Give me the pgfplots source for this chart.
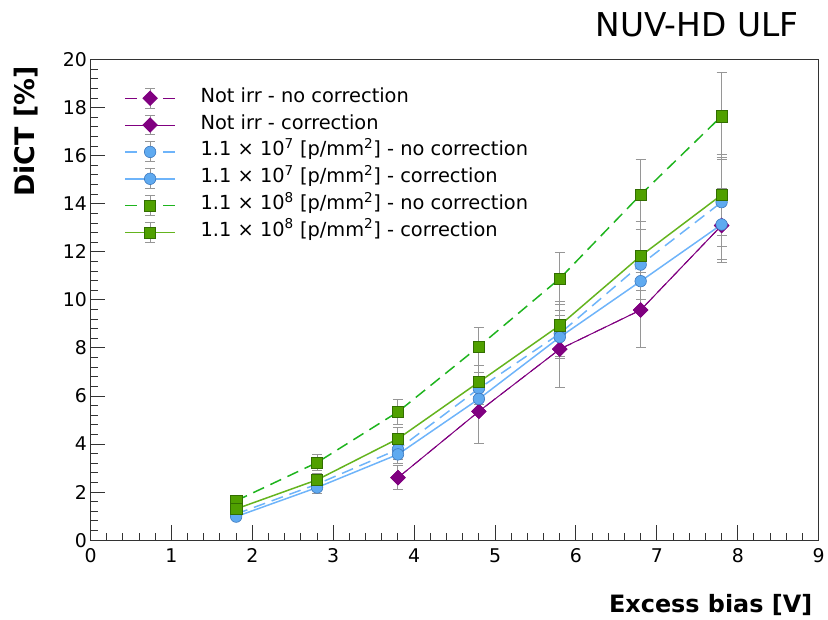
\documentclass[border=0pt]{standalone}
\usepackage{pgfplots}
\pgfplotsset{compat=1.18}
\usepackage{pgfplotstable}
\usepackage{fontspec}
\setmainfont{DejaVu Sans}
\definecolor{cpurple}{RGB}{128,0,128}
\definecolor{cblue}{RGB}{95,170,240}
\definecolor{cblueline}{RGB}{110,180,250}
\definecolor{cblueedge}{RGB}{60,120,190}
\definecolor{cgreen}{RGB}{80,160,0}
\definecolor{cgreenedge}{RGB}{50,110,0}
\definecolor{cgreendash}{RGB}{30,180,30}
\definecolor{cgreenline}{RGB}{100,180,30}
\definecolor{cerr}{RGB}{150,150,150}

\pgfplotstableread{
x y e
3.8 2.60 0.50
4.8 5.36 1.32
5.8 7.95 1.60
6.8 9.58 1.55
7.8 13.10 1.55
}\notirrnc
\pgfplotstableread{
x y e
3.8 2.60 0.50
4.8 5.36 1.32
5.8 7.95 1.60
6.8 9.58 1.55
7.8 13.10 1.55
}\notirrc
\pgfplotstableread{
x y e
1.8 1.09 0.12
2.8 2.33 0.25
3.8 3.78 0.42
4.8 6.31 0.68
5.8 8.60 0.95
6.8 11.47 1.45
7.8 14.07 1.85
}\sevennc
\pgfplotstableread{
x y e
1.8 0.98 0.10
2.8 2.19 0.23
3.8 3.57 0.38
4.8 5.88 0.62
5.8 8.45 0.90
6.8 10.78 1.20
7.8 13.14 1.45
}\sevenc
\pgfplotstableread{
x y e
1.8 1.64 0.18
2.8 3.23 0.33
3.8 5.34 0.52
4.8 8.06 0.80
5.8 10.89 1.08
6.8 14.38 1.45
7.8 17.65 1.80
}\eightnc
\pgfplotstableread{
x y e
1.8 1.30 0.15
2.8 2.51 0.28
3.8 4.22 0.45
4.8 6.58 0.70
5.8 8.94 1.00
6.8 11.83 1.45
7.8 14.37 1.70
}\eightc

\pgfplotsset{
  errs/.style={
    /pgfplots/error bars/y dir=both, /pgfplots/error bars/y explicit,
    /pgfplots/error bars/error bar style={cerr, line width=1pt, solid},
    /pgfplots/error bars/error mark options={rotate=90, mark size=5pt, cerr, line width=1pt, solid}},
  spurple/.style={cpurple, line width=1pt, mark=square*, mark size=5pt,
    mark options={rotate=45, solid, fill=cpurple, draw=cpurple}},
  sblue/.style={cblueline, line width=1.5pt, mark=*, mark size=5.8pt,
    mark options={solid, fill=cblue, draw=cblueedge, line width=0.6pt}},
  sgreendash/.style={cgreendash, line width=1.5pt, mark=square*, mark size=5.7pt,
    mark options={solid, fill=cgreen, draw=cgreenedge, line width=0.6pt}},
  sgreen/.style={cgreenline, line width=1.5pt, mark=square*, mark size=5.7pt,
    mark options={solid, fill=cgreen, draw=cgreenedge, line width=0.6pt}},
  dsh/.style={dash pattern=on 12pt off 7pt},
}

\begin{document}
\begin{tikzpicture}
\begin{axis}[
  scale only axis, width=732pt, height=483pt,
  xmin=0, xmax=9, ymin=0, ymax=20,
  xtick={0,1,...,9}, ytick={0,2,...,20},
  minor x tick num=4, minor y tick num=4,
  tick align=inside, xtick pos=bottom, ytick pos=left,
  major tick length=15pt, minor tick length=7.5pt,
  axis line style={line width=1.2pt, black!80},
  tick style={line width=1pt, black!80},
  /pgf/number format/assume math mode=true,
  ticklabel style={font=\fontsize{19}{19}\selectfont},
  xticklabel style={yshift=-5pt},
  legend style={at={(0.0464,0.942)}, anchor=north west, draw=none, fill=none,
    inner sep=0pt, font=\fontsize{19.5}{20}\selectfont, row sep=6pt, column sep=25pt,
    nodes={inner sep=0pt, text height=14pt, text depth=6pt}},
  legend cell align=left,
  legend image code/.code={
    \draw[cerr, line width=1pt, solid] (25pt,-10pt) -- (25pt,10pt);
    \draw[cerr, line width=1pt, solid] (20pt,-10pt) -- (30pt,-10pt);
    \draw[cerr, line width=1pt, solid] (20pt,10pt) -- (30pt,10pt);
    \draw[mark repeat=2,mark phase=2,#1] plot coordinates {(0pt,0pt) (25pt,0pt) (50pt,0pt)};
  },
]
\addlegendimage{spurple, dsh}
\addlegendentry{Not irr - no correction}
\addlegendimage{spurple}
\addlegendentry{Not irr - correction}
\addlegendimage{sblue, dsh}
\addlegendentry{1.1 × 10\textsuperscript{7} [p/mm\textsuperscript{2}] - no correction}
\addlegendimage{sblue}
\addlegendentry{1.1 × 10\textsuperscript{7} [p/mm\textsuperscript{2}] - correction}
\addlegendimage{sgreendash, dsh}
\addlegendentry{1.1 × 10\textsuperscript{8} [p/mm\textsuperscript{2}] - no correction}
\addlegendimage{sgreen}
\addlegendentry{1.1 × 10\textsuperscript{8} [p/mm\textsuperscript{2}] - correction}

\addplot[spurple, dsh, errs, forget plot] table[x=x, y=y, y error=e] {\notirrnc};
\addplot[spurple, errs, forget plot] table[x=x, y=y, y error=e] {\notirrc};
\addplot[sblue, dsh, errs, forget plot] table[x=x, y=y, y error=e] {\sevennc};
\addplot[sblue, errs, forget plot] table[x=x, y=y, y error=e] {\sevenc};
\addplot[sgreendash, dsh, errs, forget plot] table[x=x, y=y, y error=e] {\eightnc};
\addplot[sgreen, errs, forget plot] table[x=x, y=y, y error=e] {\eightc};
\end{axis}
\node[rotate=90, anchor=south east, font=\bfseries\fontsize{27}{27}\selectfont]
  at ([xshift=-49pt,yshift=-3pt]current axis.north west) {DiCT [\%]};
\node[anchor=base east, font=\bfseries\fontsize{24}{24}\selectfont]
  at ([xshift=-3pt,yshift=-73pt]current axis.south east) {Excess bias [V]};
\node[anchor=base east, font=\fontsize{33}{33}\selectfont]
  at ([xshift=-17pt,yshift=23pt]current axis.north east) {NUV-HD ULF};
\path ([xshift=-91pt,yshift=-80pt]current axis.south west) rectangle ++(828pt,623pt);
\end{tikzpicture}
\end{document}
